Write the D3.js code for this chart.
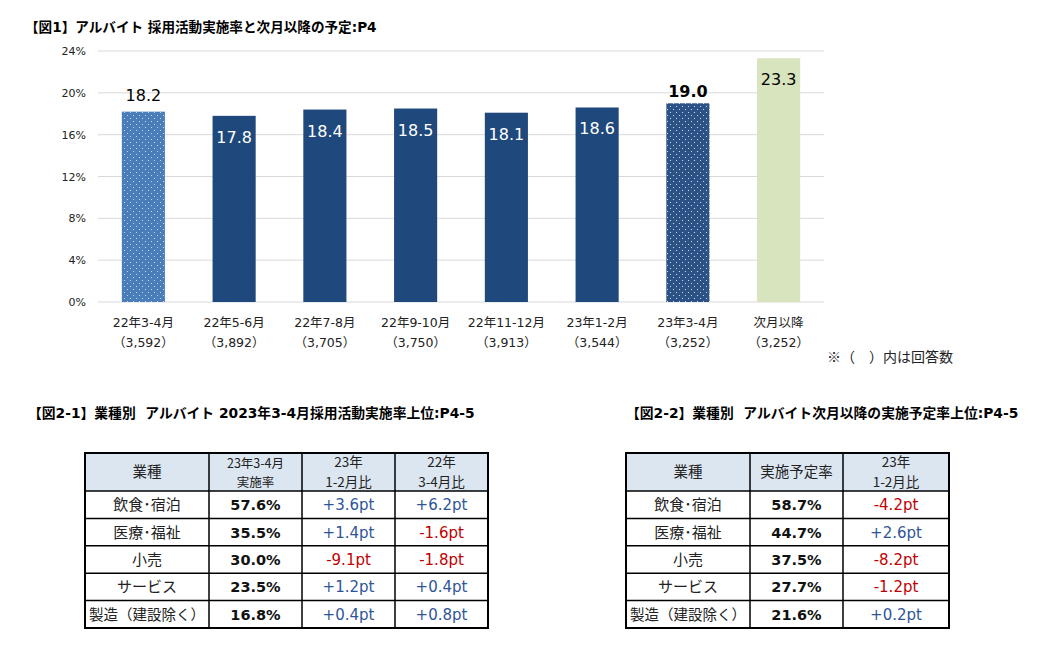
<!DOCTYPE html>
<html><head><meta charset="utf-8">
<script src="https://cdn.jsdelivr.net/npm/d3@7"></script>
<style>
body{margin:0;background:#fff;}
svg text{font-family:"DejaVu Sans","Noto Sans CJK JP",sans-serif;}
.cjk{font-family:"Noto Sans CJK JP","DejaVu Sans",sans-serif;}
</style></head><body>
<svg id="c" width="1040" height="650"></svg>
<script>
// ---- Chart 1 data ----
const periods = ["22年3-4月","22年5-6月","22年7-8月","22年9-10月","22年11-12月","23年1-2月","23年3-4月","次月以降"];
const respondents = ["（3,592）","（3,892）","（3,705）","（3,750）","（3,913）","（3,544）","（3,252）","（3,252）"];
const rates = [18.2, 17.8, 18.4, 18.5, 18.1, 18.6, 19.0, 23.3];
const barKinds = ["dotLight","solid","solid","solid","solid","solid","dotDark","plan"];
const yTicks = [0,4,8,12,16,20,24];

// ---- Table 2-1 data ----
const t1Header = [["業種"],["23年3-4月","実施率"],["23年","1-2月比"],["22年","3-4月比"]];
const t1Industries = ["飲食･宿泊","医療･福祉","小売","サービス","製造（建設除く）"];
const t1Rates = ["57.6%","35.5%","30.0%","23.5%","16.8%"];
const t1VsJanFeb = ["+3.6pt","+1.4pt","-9.1pt","+1.2pt","+0.4pt"];
const t1VsLastYear = ["+6.2pt","-1.6pt","-1.8pt","+0.4pt","+0.8pt"];

// ---- Table 2-2 data ----
const t2Header = [["業種"],["実施予定率"],["23年","1-2月比"]];
const t2Industries = ["飲食･宿泊","医療･福祉","小売","サービス","製造（建設除く）"];
const t2Rates = ["58.7%","44.7%","37.5%","27.7%","21.6%"];
const t2VsJanFeb = ["-4.2pt","+2.6pt","-8.2pt","-1.2pt","+0.2pt"];

const svg = d3.select("#c");
const defs = svg.append("defs");
function dotPattern(id, bg){
  const p = defs.append("pattern").attr("id",id).attr("patternUnits","userSpaceOnUse")
    .attr("width",6).attr("height",6);
  p.append("rect").attr("width",6).attr("height",6).attr("fill",bg);
  p.append("rect").attr("x",1).attr("y",1).attr("width",1).attr("height",1).attr("fill","#c9d7ec");
  p.append("rect").attr("x",4).attr("y",4).attr("width",1).attr("height",1).attr("fill","#c9d7ec");
}
dotPattern("pLight","#4a7ebb");
dotPattern("pDark","#2c5286");
const fills = {dotLight:"url(#pLight)", solid:"#1f497d", dotDark:"url(#pDark)", plan:"#d7e4bd"};

// Title
svg.append("text").attr("x",25).attr("y",32).attr("font-size",13.6).attr("font-weight","bold")
  .attr("fill","#000").text("【図1】アルバイト 採用活動実施率と次月以降の予定:P4");

const x = d3.scaleBand().domain(periods).range([98,824]).paddingInner(0.525).paddingOuter(0.2625);
const y = d3.scaleLinear().domain([0,24]).range([302,51]);

const g = svg.append("g");
g.selectAll("line.grid").data(yTicks).join("line").attr("class","grid")
  .attr("x1",98).attr("x2",824).attr("y1",d=>y(d)).attr("y2",d=>y(d))
  .attr("stroke","#d9d9d9").attr("stroke-width",1);
const yAxis = d3.axisLeft(y).tickValues(yTicks).tickFormat(d=>d+"%").tickSize(0).tickPadding(12);
const ya = g.append("g").attr("transform","translate(98,0)").call(yAxis);
ya.select(".domain").remove();
ya.selectAll("text").attr("font-size",11).attr("fill","#222").attr("font-family","DejaVu Sans");

g.selectAll("rect.bar").data(rates).join("rect").attr("class","bar")
  .attr("x",(d,i)=>x(periods[i])).attr("width",x.bandwidth())
  .attr("y",d=>y(d)).attr("height",d=>y(0)-y(d))
  .attr("fill",(d,i)=>fills[barKinds[i]]);

g.selectAll("text.val").data(rates).join("text").attr("class","val")
  .attr("x",(d,i)=>x(periods[i])+x.bandwidth()/2)
  .attr("y",(d,i)=>{
    const k=barKinds[i];
    if(k==="dotLight") return y(d)-11;
    if(k==="dotDark") return y(d)-6;
    return y(d)+27;
  })
  .attr("text-anchor","middle").attr("font-size",16)
  .attr("font-weight",(d,i)=>barKinds[i]==="dotDark"?"bold":"normal")
  .attr("fill",(d,i)=>barKinds[i]==="solid"?"#fff":"#000")
  .text(d=>d.toFixed(1));

// x labels
g.selectAll("text.xl").data(periods).join("text").attr("class","xl")
  .attr("x",d=>x(d)+x.bandwidth()/2).attr("y",327).attr("text-anchor","middle")
  .attr("font-size",12.5).attr("fill","#222").text(d=>d);
g.selectAll("text.xn").data(respondents).join("text").attr("class","xn")
  .attr("x",(d,i)=>x(periods[i])+x.bandwidth()/2).attr("y",347).attr("text-anchor","middle")
  .attr("font-size",12.5).attr("fill","#222").text(d=>d);
svg.append("text").attr("class","cjk").attr("x",827).attr("y",362).attr("font-size",14).attr("fill","#222")
  .text("※（　）内は回答数");

// ---- Tables ----
function drawTable(opts){
  const {title, tx, left, cols, header, rows} = opts;
  svg.append("text").attr("x",tx).attr("y",418).attr("font-size",13.8).attr("font-weight","bold")
    .attr("fill","#000").text(title);
  const top = 453, headH = 38, rowH = 27.4;
  const edges = [left]; cols.forEach(w=>edges.push(edges[edges.length-1]+w));
  const tg = svg.append("g");
  tg.append("rect").attr("x",left).attr("y",top).attr("width",edges[edges.length-1]-left).attr("height",headH).attr("fill","#dce6f1");
  header.forEach((lines,ci)=>{
    const cx=(edges[ci]+edges[ci+1])/2;
    const small = lines.length===2 && ci===1 && header.length===4;
    const fs = lines.length===1 ? 14.5 : (small?12.5:13.5);
    lines.forEach((ln,li)=>{
      const yy = lines.length===1 ? top+headH/2+5 : (small ? top+(li===0?15:34) : top+(li===0?14:34));
      tg.append("text").attr("class","cjk").attr("x",cx).attr("y",yy).attr("text-anchor","middle")
        .attr("font-size",fs).attr("fill","#222").text(ln);
    });
  });
  rows.forEach((r,ri)=>{
    const cy = top+headH+rowH*ri+rowH/2+5.5;
    r.forEach((v,ci)=>{
      const cx=(edges[ci]+edges[ci+1])/2;
      const t = tg.append("text").attr("x",cx).attr("y",cy).attr("text-anchor","middle");
      if(ci===0){ t.attr("class","cjk").attr("font-size",v.length>6?14.5:15).attr("fill","#222"); }
      else if(ci===1){ t.attr("font-size",14.5).attr("font-weight","bold").attr("fill","#111"); }
      else { t.attr("font-size",15).attr("fill", v.startsWith("-")?"#c00000":"#2f5597"); }
      t.text(v);
    });
  });
  const bottom = top+headH+rowH*rows.length;
  for(let i=1;i<edges.length-1;i++) tg.append("line").attr("x1",edges[i]).attr("x2",edges[i]).attr("y1",top).attr("y2",bottom).attr("stroke","#000").attr("stroke-width",1.5);
  for(let i=0;i<rows.length;i++){
    const yy = top+headH+rowH*i;
    tg.append("line").attr("x1",left).attr("x2",edges[edges.length-1]).attr("y1",yy).attr("y2",yy).attr("stroke","#000").attr("stroke-width",1.5);
  }
  tg.append("rect").attr("x",left).attr("y",top).attr("width",edges[edges.length-1]-left).attr("height",bottom-top)
    .attr("fill","none").attr("stroke","#000").attr("stroke-width",2);
}
drawTable({
  title:"【図2-1】業種別\u00a0\u00a0アルバイト 2023年3-4月採用活動実施率上位:P4-5", tx:28, left:85,
  cols:[124,93,93,93], header:t1Header,
  rows:t1Industries.map((d,i)=>[d,t1Rates[i],t1VsJanFeb[i],t1VsLastYear[i]])
});
drawTable({
  title:"【図2-2】業種別\u00a0\u00a0アルバイト次月以降の実施予定率上位:P4-5", tx:626, left:626,
  cols:[124,93,106], header:t2Header,
  rows:t2Industries.map((d,i)=>[d,t2Rates[i],t2VsJanFeb[i]])
});
</script></body></html>
